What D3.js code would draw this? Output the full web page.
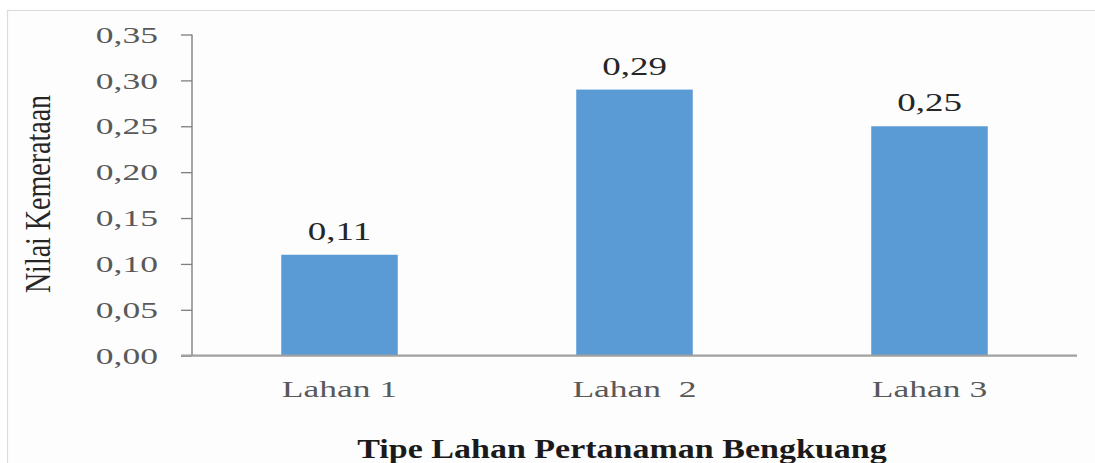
<!DOCTYPE html>
<html>
<head>
<meta charset="utf-8">
<script src="https://cdn.jsdelivr.net/npm/d3@7"></script>
<style>
  html, body { margin: 0; padding: 0; background: #ffffff; }
  svg { display: block; }
  text { font-family: "Liberation Serif", "Times New Roman", serif; }
</style>
</head>
<body>
<div id="chart"></div>
<script>
// Nilai kemerataan per tipe lahan
const categories = ["Lahan 1", "Lahan  2", "Lahan 3"];
const values = [0.11, 0.29, 0.25];
const yTicks = [0, 0.05, 0.10, 0.15, 0.20, 0.25, 0.30, 0.35];
const yAxisTitle = "Nilai Kemerataan";
const xAxisTitle = "Tipe Lahan Pertanaman Bengkuang";

const W = 1095, H = 463;
const margin = { left: 192, right: 18, top: 34.5, bottom: 107.3 };
const STRETCH = 1.48;      // wide lettering of axis text
const TITLE_STRETCH = 1.26;
const YTITLE_STRETCH = 1.3;

const idFmt = d3.formatLocale({ decimal: ",", thousands: ".", grouping: [3], currency: ["Rp", ""] });
const fmt = idFmt.format(".2f");

const svg = d3.select("#chart").append("svg")
  .attr("width", W).attr("height", H);

// panel background with thin frame
svg.append("rect")
  .attr("x", 7.5).attr("y", 10.5)
  .attr("width", W + 20).attr("height", H + 20)
  .attr("fill", "#fdfdfd").attr("stroke", "#dcdcdc").attr("stroke-width", 1.2);

const x = d3.scaleBand()
  .domain(categories)
  .range([margin.left, W - margin.right])
  .paddingInner(0.605)
  .paddingOuter(0.3025);

const y = d3.scaleLinear()
  .domain([0, 0.35])
  .range([H - margin.bottom, margin.top]);

// bars
svg.append("g").selectAll("rect")
  .data(values)
  .join("rect")
  .attr("x", (d, i) => x(categories[i]))
  .attr("y", d => y(d))
  .attr("width", x.bandwidth())
  .attr("height", d => y(0) - y(d))
  .attr("fill", "#5b9bd5");

// value labels
svg.append("g").selectAll("text")
  .data(values)
  .join("text")
  .attr("text-anchor", "middle")
  .attr("font-size", 25)
  .attr("fill", "#262626")
  .attr("transform", (d, i) =>
    `translate(${x(categories[i]) + x.bandwidth() / 2},${y(d) - 15}) scale(${STRETCH},1)`)
  .text(d => fmt(d));

// y axis
const yAxis = svg.append("g")
  .attr("transform", `translate(${margin.left},0)`)
  .call(d3.axisLeft(y).tickValues(yTicks).tickFormat(fmt).tickSize(11).tickPadding(0));
yAxis.select(".domain")
  .attr("d", `M0,${y(0.35)}V${y(0)}`)
  .attr("stroke", "#7f7f7f").attr("stroke-width", 1.4);
yAxis.selectAll(".tick line").attr("stroke", "#7f7f7f").attr("stroke-width", 1.3);
yAxis.selectAll(".tick text")
  .attr("x", 0)
  .attr("font-size", 24)
  .attr("fill", "#595959")
  .attr("transform", `translate(-34,0) scale(${STRETCH},1)`);

// x axis baseline and category labels
const xAxis = svg.append("g")
  .attr("transform", `translate(0,${y(0)})`)
  .call(d3.axisBottom(x).tickSize(0).tickPadding(0));
xAxis.select(".domain").remove();
svg.append("line")
  .attr("x1", margin.left - 11).attr("x2", W - margin.right)
  .attr("y1", y(0)).attr("y2", y(0))
  .attr("stroke", "#a0a0a0").attr("stroke-width", 2.2);
xAxis.selectAll(".tick text")
  .attr("y", 0).attr("dy", null)
  .attr("font-size", 24)
  .attr("fill", "#595959")
  .style("white-space", "pre")
  .attr("transform", `translate(0,41) scale(${STRETCH},1)`);

// axis titles
svg.append("text")
  .attr("text-anchor", "middle")
  .attr("font-size", 27)
  .attr("font-weight", "bold")
  .attr("fill", "#1a1a1a")
  .attr("transform", `translate(622,458) scale(${TITLE_STRETCH},1)`)
  .text(xAxisTitle);

svg.append("text")
  .attr("text-anchor", "middle")
  .attr("font-size", 28)
  .attr("fill", "#262626")
  .attr("transform", `translate(50,194) scale(${YTITLE_STRETCH},1) rotate(-90)`)
  .text(yAxisTitle);
</script>
</body>
</html>
